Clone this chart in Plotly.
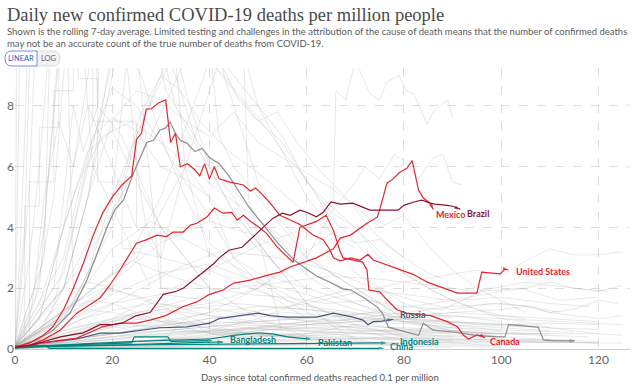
import plotly.graph_objects as go

# ---------------- highlighted countries (days since 0.1 deaths/million, daily deaths per million) ----------------
us_days = [0, 3, 5.8, 7.8, 10, 12, 14, 16, 18, 20, 22, 24, 25, 26, 27, 28, 29.5, 31, 32, 33, 34, 35.5, 37, 38, 39, 40, 41, 42, 44, 47, 48.4, 49.5, 50.8, 52.5, 54.5, 56.6, 58.6, 61.3, 63.4, 64.8, 65.5, 66.9, 69, 71, 72.6, 73.7, 76.5, 79, 82, 84.8, 87.4, 91, 95, 96, 99.8, 100.8, 101.5]
us_vals = [0.05, 0.2, 0.45, 0.73, 1.3, 2.0, 2.8, 3.7, 4.47, 5.0, 5.4, 5.7, 6.9, 7.1, 7.9, 7.9, 8.1, 8.2, 6.8, 7.1, 6.0, 6.1, 5.9, 5.7, 6.1, 5.6, 6.0, 5.6, 5.5, 5.4, 5.2, 5.3, 5.1, 4.8, 4.4, 4.24, 4.1, 3.75, 3.6, 3.26, 3.0, 2.9, 3.0, 2.93, 3.12, 2.93, 2.76, 2.62, 2.45, 2.2, 2.04, 1.84, 1.84, 2.53, 2.47, 2.63, 2.6]

canada_days = [0, 3, 5.8, 9.3, 12.7, 15.4, 17.5, 19.5, 21.6, 23.7, 25, 27.1, 29.2, 31.2, 32.5, 34.6, 36, 37.4, 39.5, 41, 42.8, 44.6, 45.7, 47, 48.5, 50.4, 51.8, 53.9, 56, 57.2, 58.6, 59.7, 62, 64, 65.5, 66.9, 67.5, 71.5, 72.4, 72.8, 75, 76.5, 78.5, 80.5, 85.5, 88.9, 91, 92.2, 93.3, 95, 96, 96.7]
canada_vals = [0.05, 0.12, 0.3, 0.62, 1.18, 1.45, 1.68, 2.1, 2.6, 3.15, 3.48, 3.6, 3.75, 3.7, 3.85, 3.85, 4.07, 4.14, 4.35, 4.64, 4.47, 4.5, 4.24, 4.4, 4.2, 3.98, 3.8, 3.36, 3.03, 2.85, 4.0, 4.07, 4.2, 4.4, 3.9, 3.2, 3.0, 2.86, 2.6, 1.94, 1.88, 1.62, 1.3, 1.18, 1.1, 0.9, 0.73, 0.46, 0.33, 0.46, 0.43, 0.36]

mexico_days = [0, 5.6, 12.7, 18, 21.6, 25, 27.8, 31, 34.6, 37.4, 40, 42.8, 45, 48.4, 52, 54.5, 56.6, 59.3, 62, 65.5, 66.9, 69, 72.4, 74.5, 75, 76.5, 77.8, 79, 80.6, 81.7, 83, 84, 85.4, 86]
mexico_vals = [0.05, 0.2, 0.36, 0.73, 0.85, 0.85, 0.95, 1.1, 1.4, 1.55, 1.8, 1.94, 2.17, 2.27, 2.43, 2.53, 2.7, 2.86, 3.0, 3.3, 3.65, 3.75, 4.14, 4.34, 4.57, 5.46, 5.6, 5.8, 5.95, 6.2, 5.23, 4.97, 4.8, 4.6]

brazil_days = [0, 3, 5.6, 9.3, 14, 17.5, 20, 22, 25, 27.8, 30.5, 33.2, 34.6, 37.4, 38.5, 40.8, 42, 44, 46.7, 48.4, 50.4, 53, 55, 56.6, 58.6, 60, 62, 63.4, 65, 66.9, 69.5, 71.7, 73, 78.8, 80, 82, 83.7, 85.4, 86.4, 88.9, 90, 91.6]
brazil_vals = [0.05, 0.12, 0.23, 0.4, 0.53, 0.8, 0.8, 0.85, 1.1, 1.2, 1.8, 1.9, 2.0, 2.35, 2.5, 2.8, 3.0, 3.25, 3.35, 3.6, 3.9, 4.3, 4.47, 4.4, 4.57, 4.5, 4.35, 4.5, 4.84, 4.77, 4.8, 4.67, 4.57, 4.57, 4.73, 4.84, 4.9, 4.8, 4.77, 4.73, 4.7, 4.6]

russia_days = [0, 5.6, 12.7, 17.5, 21.6, 25.7, 29.8, 35.4, 40, 42, 46, 50, 52.5, 56, 59, 62, 65.5, 69.5, 71.6, 72.6, 73.7, 75.5, 77.8]
russia_vals = [0.03, 0.2, 0.33, 0.52, 0.52, 0.6, 0.7, 0.73, 0.85, 1.0, 1.1, 1.18, 1.1, 1.05, 1.05, 1.05, 1.18, 1.05, 0.95, 0.8, 0.9, 0.92, 0.98]

grey_days = [0, 4.5, 7.8, 11.3, 12.7, 14.8, 16.9, 18.9, 20.6, 22.3, 24.4, 25.7, 27.1, 28.5, 29.8, 30.9, 31.9, 33, 34, 35.4, 37, 38.5, 40, 42, 44, 46, 48, 50, 52, 54, 57.2, 59.3, 62, 64.8, 67.5, 69, 71.6, 74.5, 75.5, 76.8, 80.6, 83, 84, 86, 90, 92, 94.3, 99, 100.8, 101.5, 106, 107.6, 108.7, 110.7, 115.2]
grey_vals = [0.05, 0.3, 0.62, 1.18, 1.6, 2.27, 3.15, 4.0, 4.6, 4.9, 5.8, 6.3, 6.8, 6.87, 7.2, 7.27, 7.47, 7.1, 6.87, 6.77, 6.5, 6.6, 6.3, 6.1, 5.7, 5.2, 4.7, 4.3, 3.9, 3.5, 2.95, 2.7, 2.4, 2.2, 1.97, 1.95, 1.7, 1.38, 1.2, 0.72, 0.55, 0.45, 0.85, 0.62, 0.56, 0.52, 0.46, 0.4, 0.4, 0.8, 0.75, 0.72, 0.3, 0.27, 0.27]

china_days = [0, 6.5, 7, 76]
china_vals = [0.1, 0.1, 0.02, 0.02]
asia_other_days = [0, 5, 15, 24, 24.5, 31.5, 32, 38, 40.7]
asia_other_vals = [0.05, 0.1, 0.15, 0.2, 0.4, 0.4, 0.25, 0.28, 0.28]
bangladesh_days = [0, 6, 20, 30, 38, 42.8]
bangladesh_vals = [0.03, 0.08, 0.12, 0.18, 0.22, 0.23]
pakistan_days = [0, 5, 15, 25, 35, 40, 45, 48, 50, 53, 56, 59, 61]
pakistan_vals = [0.05, 0.1, 0.18, 0.25, 0.3, 0.33, 0.45, 0.5, 0.53, 0.5, 0.4, 0.35, 0.33]
indonesia_days = [0, 5, 20, 40, 55, 65, 72, 76.5]
indonesia_vals = [0.05, 0.1, 0.13, 0.16, 0.18, 0.2, 0.2, 0.2]

# ---------------- background countries (grey) ----------------
bg_high = [
    ([0, 1, 2, 3], [0.1, 3, 7, 12]),
    ([0, 1.5, 3, 4, 6, 8], [0.1, 2.5, 5.5, 9.5, 12, 12]),
    ([0, 2, 2, 5, 5, 9, 9, 13, 13, 17, 17, 22, 22, 26], [0.1, 0.1, 4.7, 4.7, 7.3, 7.3, 9.5, 9.5, 8.9, 8.9, 5.5, 5.5, 3.3, 3.3]),
    ([0, 3, 6, 8, 10, 14, 18, 22, 26, 30, 35, 40, 50, 60], [0.1, 1, 4, 8, 12, 14, 12, 10, 9, 7, 5, 3.5, 2, 1]),
    ([0, 5, 10, 15, 20, 25, 30, 35, 40, 45, 50, 55, 60, 65, 70, 75, 80, 85, 90, 95, 100, 105, 110, 115, 120], [0.1, 0.5, 2, 5, 10, 13, 12, 11, 9.5, 8.5, 7.5, 6.8, 5.5, 4.5, 4, 3, 2.5, 2, 1.6, 1.3, 1, 0.9, 0.7, 0.6, 0.5]),
    ([0, 4, 8, 10, 12, 26, 30, 33, 36, 40, 45, 50, 55, 60, 65, 70, 80, 90], [0.1, 1.5, 5, 9, 13, 13, 10, 8, 7, 6, 4.5, 3.5, 2.5, 1.5, 0.8, 0.3, 0.1, 0.05]),
    ([0, 5, 10, 15, 20, 25, 35, 40, 45, 50, 55, 60, 65, 70, 75, 80, 85, 90, 95, 100, 105], [0.1, 0.6, 2, 5, 9, 12, 12, 10, 9, 8, 7, 5.5, 4.7, 4, 3.2, 2.5, 2, 1.6, 1.3, 1.1, 1.0]),
    ([0, 10, 15, 20, 24, 28, 31, 35, 40, 45, 50, 55, 60, 70, 80, 90, 100, 110, 115], [0.1, 2.5, 6, 9.5, 13, 11, 8.5, 7.5, 6.2, 5.2, 4.3, 3.5, 2.4, 1.5, 0.9, 0.6, 0.4, 0.3, 0.25]),
    ([0, 10, 15, 20, 25, 30, 35, 40, 45, 50, 55, 60, 65, 70, 75, 80, 85, 90, 95, 100, 105], [0.1, 2, 5, 7.5, 8.5, 8.2, 7.5, 7, 7.8, 6.8, 6.3, 5.8, 5.3, 4.7, 4.0, 4.4, 3.4, 2.6, 2.0, 1.6, 1.2]),
    ([0, 10, 15, 20, 25, 30, 35, 40, 45, 50, 60, 70, 80, 90, 100], [0.1, 3, 6.5, 8.6, 8.0, 6.8, 5.5, 4.4, 3.0, 2.2, 1.2, 0.6, 0.3, 0.2, 0.1]),
    ([0, 10, 20, 25, 30, 33, 36, 40, 45, 50, 55, 60, 70, 80, 90], [0.1, 1, 4, 7, 8.8, 9.8, 8, 6, 5, 3.5, 2.5, 1.5, 0.8, 0.4, 0.3]),
    ([0, 5, 10, 15, 20, 25, 30, 35, 40, 50, 60, 70, 80, 90, 100], [0.1, 1, 4, 6.5, 7.2, 5.5, 4, 3, 2, 1, 0.4, 0.15, 0.1, 0.1, 0.05]),
    ([0, 5, 10, 15, 18, 40, 43, 47, 50, 55, 60, 65, 70, 75, 80, 85, 90, 100], [0.1, 1, 4, 9, 12, 12, 9, 7, 5.5, 4.2, 3.2, 2.5, 2, 1.5, 1, 0.8, 0.6, 0.3]),
    ([0, 10, 20, 30, 40, 50, 60, 64, 65.5, 66, 68, 70, 73, 75, 76.5, 79, 80.5, 82, 84.8, 86, 89, 90], [0.1, 0.4, 1, 1.8, 2.6, 3.4, 4, 4.4, 5, 8.5, 8.2, 9.5, 8.4, 8.2, 8.8, 9, 8.5, 8.4, 7.4, 7.8, 8.2, 7.6]),
    ([0, 20, 30, 40, 50, 55, 60, 65, 70, 72, 75, 78, 80, 83, 86, 88, 90, 92], [0.1, 0.5, 0.8, 1.2, 2, 2.5, 3, 4.5, 5.5, 6, 5.6, 6.4, 6.2, 5.6, 6.3, 6.4, 5.5, 5.4]),
    ([0, 10, 15, 20, 23, 25, 27, 30, 35, 40, 45, 50, 60, 70, 80, 90, 100], [0.1, 1, 2.5, 5, 9.5, 6, 4, 3, 6, 5, 3, 2.5, 2, 1.5, 1, 1.1, 0.9]),
    ([0, 3, 3, 8, 8, 12, 12, 16, 16, 25, 25, 30, 30, 40, 40, 60], [0.1, 0.1, 5.5, 5.5, 8.5, 8.5, 11, 11, 7.5, 7.5, 4, 4, 2, 2, 0.5, 0.5]),
    ([0, 1, 20, 25, 30], [0.1, 30, 30, 10, 2]),
    ([0, 2, 15, 17, 19, 45, 48, 55], [0.1, 20, 20, 8, 20, 20, 5, 0.5]),
    ([0, 6, 8, 30, 35, 40], [0.1, 3, 15, 15, 6, 3]),
    ([0, 5, 7, 9, 11, 20, 28, 33, 38, 45, 55], [0.1, 2, 6, 9, 13, 13, 11, 9, 6.5, 4.5, 2.5]),
    ([0, 8, 12, 16, 20, 25, 30, 35, 40, 45, 50, 55, 60], [0.1, 1.5, 4, 7, 7.6, 7.2, 6, 5.6, 5, 4.2, 3.3, 2.6, 2]),
    ([0, 10, 20, 30, 38, 40, 42, 45, 50, 55, 60, 70, 80], [0.1, 2, 5, 9, 12, 10, 7, 6, 5, 4, 3, 2, 1]),
    ([0, 15, 25, 35, 45, 50, 55, 60, 63, 66, 70, 80, 90], [0.1, 3, 6, 9.5, 11, 8, 6.5, 5, 4.4, 3.5, 2.5, 1.5, 1]),
    ([0, 2, 4, 10, 12], [0.1, 4, 15, 15, 2]),
    ([0, 4, 6, 9, 12, 15, 20, 25, 30], [0.1, 2, 5, 7.5, 6, 8, 6, 4, 3]),
    ([0, 3, 5, 7, 14, 16, 22, 28], [0.1, 3, 6, 10, 10, 6, 4, 2]),
    ([0, 8, 10, 12, 14, 17, 22, 26, 30, 35, 40], [0.1, 2, 5, 8, 6.5, 8, 7, 5.5, 4, 3, 2]),
    ([0, 5, 9, 13, 18, 24, 30, 36, 42, 48, 54, 60, 66], [0.1, 1.5, 3.5, 5.5, 7, 7.5, 6.8, 6, 5.2, 4.5, 3.8, 3.0, 2.4]),
    ([0, 12, 18, 22, 26, 30, 34, 38, 44, 50, 56, 62, 70], [0.1, 1.5, 3.5, 5.5, 7.8, 9, 8.5, 7.5, 6.5, 5.8, 5, 4.2, 3.3]),
    ([0, 20, 30, 40, 44, 48, 52, 56, 60, 64, 70, 76], [0.1, 2, 5, 9.5, 8.8, 8, 7.2, 6.3, 5.6, 4.5, 3.5, 2.5]),
    ([0, 25, 35, 42, 46, 50, 54, 58, 62, 68, 74, 80], [0.1, 3, 6, 9.5, 8.2, 7.5, 7.8, 6.8, 6, 5, 3.8, 3]),
]

bg_mid = [
    ([0, 10, 20, 30, 40, 50, 60, 70, 80, 90, 100], [0.1, 0.8, 1.8, 2.5, 2.8, 2.2, 1.8, 1.3, 1.0, 0.8, 0.6]),
    ([0, 10, 20, 25, 30, 40, 50, 60, 70, 80, 90, 100, 110], [0.1, 1.2, 2.5, 3.2, 3.0, 2.6, 1.9, 1.4, 1.2, 0.9, 0.8, 0.7, 0.6]),
    ([0, 15, 25, 35, 45, 55, 65, 75, 85, 95, 105, 115, 122], [0.1, 0.6, 1.2, 1.6, 2.0, 2.2, 2.4, 2.3, 2.1, 1.9, 2.2, 2.0, 1.9]),
    ([0, 20, 40, 60, 80, 95, 100, 105, 110, 115, 120, 125], [0.1, 0.5, 1.0, 1.5, 2.2, 2.6, 2.4, 2.9, 3.3, 3.1, 3.1, 3.2]),
    ([0, 12, 20, 28, 35, 42, 50, 58, 66, 74, 82, 90], [0.1, 1.5, 3.3, 4.2, 3.6, 3.0, 2.3, 1.6, 1.1, 0.8, 0.5, 0.4]),
    ([0, 10, 18, 26, 34, 42, 50, 58, 66, 74, 82, 90, 98, 106, 112], [0.1, 0.7, 1.3, 2.0, 2.7, 3.2, 3.1, 2.9, 2.5, 2.0, 1.6, 1.3, 1.5, 1.4, 1.2]),
    ([0, 30, 40, 50, 60, 70, 80, 90, 100, 110, 118], [0.05, 0.3, 0.6, 1.0, 1.6, 2.0, 1.8, 1.6, 1.7, 1.5, 1.4]),
    ([0, 8, 16, 24, 32, 40, 48, 56, 64, 72, 80, 88, 96, 104, 112, 120], [0.1, 0.9, 2.0, 2.9, 2.4, 2.0, 1.8, 1.7, 1.5, 1.6, 1.4, 1.3, 1.9, 2.0, 1.6, 1.7]),
    ([0, 10, 20, 30, 40, 50, 60, 65, 70, 75, 80, 85, 88], [0.1, 0.5, 0.9, 1.3, 1.5, 2.0, 3.2, 3.8, 3.5, 3.6, 3.0, 2.5, 2.3]),
    ([0, 10, 20, 30, 40, 50, 60, 70, 80], [0.1, 1.0, 2.2, 3.5, 4.2, 3.7, 2.6, 1.8, 1.2]),
    ([0, 20, 40, 60, 80, 90, 100, 106, 110, 115, 120, 124], [0.05, 0.2, 0.4, 0.8, 1.2, 1.4, 1.5, 1.4, 1.2, 1.3, 1.6, 1.5]),
    ([0, 30, 60, 90, 100, 105, 110, 115, 120, 125], [0.05, 0.3, 0.9, 1.6, 1.9, 2.0, 2.2, 2.0, 1.9, 2.1]),
]

bg_low = [
    ([0, 10, 20, 30, 40, 50, 60, 70, 80, 90, 100, 110], [0.05, 0.3, 0.5, 0.6, 0.55, 0.5, 0.45, 0.4, 0.35, 0.3, 0.3, 0.25]),
    ([0, 8, 16, 24, 32, 40, 48, 56, 64, 72, 80, 88, 96], [0.05, 0.4, 0.8, 1.0, 0.9, 0.8, 0.7, 0.6, 0.55, 0.5, 0.45, 0.4, 0.4]),
    ([0, 12, 24, 36, 48, 60, 72, 84, 96, 108, 120], [0.05, 0.2, 0.35, 0.5, 0.7, 0.9, 1.0, 0.95, 0.8, 0.7, 0.65]),
    ([0, 5, 10, 15, 20, 30, 40, 50, 60, 70, 80], [0.1, 0.6, 1.1, 1.3, 1.2, 0.9, 0.7, 0.5, 0.35, 0.25, 0.2]),
    ([0, 10, 20, 30, 40, 50, 60, 70, 80, 90, 100, 110, 118], [0.05, 0.15, 0.25, 0.3, 0.35, 0.4, 0.45, 0.5, 0.5, 0.55, 0.5, 0.45, 0.4]),
    ([0, 15, 30, 45, 60, 75, 90, 105], [0.05, 0.5, 1.2, 1.5, 1.3, 1.1, 0.9, 0.8]),
    ([0, 6, 12, 18, 24, 30, 36, 42, 48, 54, 60, 66, 72], [0.1, 0.4, 0.7, 0.9, 1.1, 1.0, 0.8, 0.6, 0.5, 0.4, 0.3, 0.25, 0.2]),
    ([0, 20, 40, 60, 80, 100, 115], [0.02, 0.1, 0.2, 0.3, 0.35, 0.3, 0.3]),
    ([0, 10, 20, 30, 40, 50, 60, 70, 80, 90], [0.05, 0.25, 0.6, 0.9, 1.2, 1.4, 1.3, 1.1, 0.9, 0.7]),
    ([0, 25, 50, 75, 100, 120], [0.02, 0.08, 0.15, 0.2, 0.25, 0.2]),
    ([0, 4, 8, 12, 16, 20, 25, 30, 35, 40, 50, 60], [0.1, 0.5, 0.9, 1.4, 1.6, 1.5, 1.2, 0.9, 0.7, 0.5, 0.3, 0.2]),
    ([0, 10, 20, 30, 40, 50, 60, 70, 80, 90, 100], [0.05, 0.1, 0.2, 0.3, 0.45, 0.6, 0.7, 0.75, 0.7, 0.6, 0.5]),
    ([0, 15, 30, 45, 60, 75, 90, 105, 120, 125], [0.05, 0.3, 0.6, 0.8, 0.7, 0.6, 0.55, 0.5, 0.5, 0.45]),
    ([0, 10, 20, 30, 40, 50, 60, 70, 80], [0.1, 0.9, 1.5, 1.8, 1.6, 1.2, 0.9, 0.7, 0.5]),
    ([0, 20, 40, 60, 80, 100], [0.03, 0.05, 0.1, 0.12, 0.15, 0.12]),
    ([0, 8, 16, 24, 32, 40, 48, 56, 64, 72, 80, 88, 96, 104, 110], [0.05, 0.2, 0.4, 0.6, 0.8, 1.0, 1.1, 1.2, 1.1, 1.0, 0.9, 0.9, 0.8, 0.8, 0.7]),
    ([0, 30, 35, 40, 60, 80, 100, 120], [0.05, 0.2, 1.0, 0.5, 0.4, 0.3, 0.25, 0.2]),
    ([0, 12, 25, 38, 50, 62, 75, 88, 100], [0.05, 0.2, 0.4, 0.55, 0.65, 0.6, 0.5, 0.45, 0.4]),
    ([0, 10, 20, 30, 40, 50, 60, 70, 80, 90, 100, 110, 120], [0.05, 0.1, 0.15, 0.2, 0.25, 0.3, 0.3, 0.35, 0.4, 0.35, 0.3, 0.3, 0.25]),
    ([0, 6, 12, 18, 24, 30, 40, 50, 60, 70], [0.1, 0.8, 1.5, 2.0, 1.8, 1.5, 1.1, 0.8, 0.6, 0.4]),
    ([0, 5, 10, 15, 20, 25, 30, 40, 50, 60, 70, 80, 90, 100, 110], [0.1, 0.3, 0.6, 0.8, 1.0, 1.2, 1.3, 1.1, 0.9, 0.8, 0.7, 0.6, 0.6, 0.5, 0.5]),
    ([0, 10, 20, 30, 40, 50, 60, 70, 80, 90, 100, 110, 120], [0.05, 0.4, 0.7, 0.8, 0.9, 0.85, 0.8, 0.9, 1.0, 0.9, 0.8, 0.85, 0.8]),
    ([0, 7, 14, 21, 28, 35, 42, 49, 56, 63, 70, 77, 84, 91, 98], [0.1, 0.5, 1.0, 1.3, 1.5, 1.4, 1.3, 1.1, 1.0, 0.9, 0.8, 0.7, 0.6, 0.6, 0.5]),
    ([0, 10, 20, 30, 40, 50, 60, 70, 80, 90, 100, 105, 110, 115, 120, 125], [0.05, 0.2, 0.4, 0.5, 0.6, 0.7, 0.8, 0.9, 1.1, 1.2, 1.3, 1.4, 1.2, 1.1, 1.0, 1.1]),
    ([0, 15, 30, 45, 60, 75, 90, 105, 115], [0.05, 0.1, 0.3, 0.4, 0.5, 0.6, 0.7, 0.6, 0.55]),
    ([0, 5, 10, 15, 20, 25, 30, 35, 40, 45, 50], [0.1, 0.8, 1.6, 2.2, 2.0, 1.7, 1.4, 1.1, 0.8, 0.6, 0.5]),
    ([0, 20, 40, 60, 70, 80, 90, 100, 110, 120], [0.05, 0.15, 0.3, 0.5, 0.8, 1.0, 1.2, 1.1, 1.0, 0.9]),
    ([0, 12, 24, 36, 48, 60, 72, 84, 96, 108], [0.05, 0.3, 0.6, 0.8, 0.9, 1.0, 0.9, 0.8, 0.6, 0.5]),
    ([0, 9, 18, 27, 36, 45, 54, 63, 72, 81, 90, 99], [0.05, 0.2, 0.3, 0.45, 0.6, 0.65, 0.7, 0.65, 0.6, 0.55, 0.5, 0.45]),
    ([0, 10, 20, 30, 40, 50, 60, 70, 80, 90, 100, 110, 120, 125], [0.03, 0.05, 0.08, 0.1, 0.1, 0.12, 0.15, 0.15, 0.18, 0.2, 0.2, 0.22, 0.2, 0.2]),
    ([0, 6, 12, 18, 24, 30, 36, 42, 48, 54, 60, 66, 72, 78, 84, 90], [0.1, 0.3, 0.5, 0.7, 0.8, 0.7, 0.6, 0.55, 0.5, 0.45, 0.4, 0.35, 0.35, 0.3, 0.3, 0.25]),
    ([0, 25, 50, 75, 100, 125], [0.05, 0.5, 0.9, 1.2, 1.0, 0.8]),
]

x_ticks = [0, 20, 40, 60, 80, 100, 120]
y_ticks = [0, 2, 4, 6, 8]

# ---------------- figure ----------------
W, H = 640, 384
L, R, T, B = 15, 630, 68, 349


def px(xp):
    return (xp - L) / (R - L)


def py(yp):
    return (B - yp) / (B - T)


RED = "#e3262f"
DARKRED = "#8c1330"
BLUE = "#46587f"
TEAL = "#00847e"
GREY = "#8f8f8f"

fig = go.Figure()

for group in (bg_low, bg_mid, bg_high):
    for d, v in group:
        fig.add_trace(go.Scatter(x=d, y=v, mode="lines", hoverinfo="skip",
                                 line=dict(color="rgba(175,175,175,0.36)", width=0.8)))


def add_country(d, v, color, width=1.2):
    n = len(d)
    fig.add_trace(go.Scatter(
        x=d, y=v, mode="lines+markers", hoverinfo="skip",
        line=dict(color=color, width=width),
        marker=dict(size=[0] * (n - 1) + [6], symbol="arrow", angleref="previous", color=color,
                    line=dict(width=0)),
    ))


add_country(china_days, china_vals, TEAL)
add_country(indonesia_days, indonesia_vals, TEAL)
add_country(bangladesh_days, bangladesh_vals, TEAL)
add_country(asia_other_days, asia_other_vals, TEAL)
add_country(pakistan_days, pakistan_vals, TEAL)
add_country(russia_days, russia_vals, BLUE)
add_country(grey_days, grey_vals, GREY)
add_country(canada_days, canada_vals, RED)
add_country(mexico_days, mexico_vals, RED)
add_country(us_days, us_vals, RED)
add_country(brazil_days, brazil_vals, DARKRED)

labels = [
    ("Bangladesh", 43.8, 0.3, TEAL),
    ("Pakistan", 62.0, 0.23, TEAL),
    ("Indonesia", 78.8, 0.26, TEAL),
    ("China", 76.7, 0.07, TEAL),
    ("Russia", 78.8, 1.12, BLUE),
    ("Canada", 97.3, 0.26, RED),
    ("United States", 102.7, 2.55, RED),
    ("Mexico", 86.2, 4.44, RED),
    ("Brazil", 92.6, 4.47, DARKRED),
]
annotations = []
for text, xd, yd, col in labels:
    annotations.append(dict(x=xd, y=yd, xref="x", yref="y", text="<b>" + text + "</b>", showarrow=False,
                             xanchor="left", yanchor="middle", font=dict(family="Lato", size=9, color=col)))

annotations += [
    dict(x=px(5), y=py(15), xref="paper", yref="paper", xanchor="left", yanchor="middle", showarrow=False,
         text="Daily new confirmed COVID-19 deaths per million people",
         font=dict(family="Liberation Serif", size=18.5, color="#4a4a4a")),
    dict(x=px(5), y=py(37), xref="paper", yref="paper", xanchor="left", yanchor="middle", showarrow=False,
         align="left",
         text="Shown is the rolling 7-day average. Limited testing and challenges in the attribution of the cause of death means that the number of confirmed deaths<br>may not be an accurate count of the true number of deaths from COVID-19.",
         font=dict(family="Lato", size=9.5, color="#5b5b5b")),
    dict(x=px(21), y=py(58.5), xref="paper", yref="paper", xanchor="center", yanchor="middle", showarrow=False,
         text="LINEAR", font=dict(family="Lato", size=7.5, color="#2f5bbf")),
    dict(x=px(48.5), y=py(58.5), xref="paper", yref="paper", xanchor="center", yanchor="middle", showarrow=False,
         text="LOG", font=dict(family="Lato", size=7.5, color="#666666")),
    dict(x=px(320), y=py(377), xref="paper", yref="paper", xanchor="center", yanchor="middle", showarrow=False,
         text="Days since total confirmed deaths reached 0.1 per million",
         font=dict(family="Lato", size=9.5, color="#555555")),
]


def pill(x0, x1, y0, y1, r, left=True, right=True):
    pts = []
    if left:
        pts.append(f"M{px(x0 + r)},{py(y0)}")
    else:
        pts.append(f"M{px(x0)},{py(y0)}")
    if right:
        pts.append(f"L{px(x1 - r)},{py(y0)} Q{px(x1)},{py(y0)} {px(x1)},{py(y0 + r)} L{px(x1)},{py(y1 - r)} Q{px(x1)},{py(y1)} {px(x1 - r)},{py(y1)}")
    else:
        pts.append(f"L{px(x1)},{py(y0)} L{px(x1)},{py(y1)}")
    if left:
        pts.append(f"L{px(x0 + r)},{py(y1)} Q{px(x0)},{py(y1)} {px(x0)},{py(y1 - r)} L{px(x0)},{py(y0 + r)} Q{px(x0)},{py(y0)} {px(x0 + r)},{py(y0)} Z")
    else:
        pts.append(f"L{px(x0)},{py(y1)} Z")
    return " ".join(pts)


shapes = [
    dict(type="path", xref="paper", yref="paper", path=pill(36, 60, 51, 66, 7, left=False),
         fillcolor="#f2f2f2", line=dict(color="#dddddd", width=1), layer="above"),
    dict(type="path", xref="paper", yref="paper", path=pill(5, 37, 51, 66, 7, right=False),
         fillcolor="#ffffff", line=dict(color="#6f8fdc", width=1), layer="above"),
]

fig.update_layout(
    width=W, height=H,
    margin=dict(l=L, r=W - R, t=T, b=H - B, autoexpand=False),
    paper_bgcolor="white", plot_bgcolor="white",
    showlegend=False,
    annotations=annotations,
    shapes=shapes,
    xaxis=dict(range=[0, 126.5], tickvals=x_ticks, showgrid=True, gridcolor="#dddddd", griddash="dash",
               gridwidth=1, zeroline=False, showline=True, linecolor="#cccccc", linewidth=1,
               ticks="", tickfont=dict(family="Lato", size=12, color="#666666"), fixedrange=True),
    yaxis=dict(range=[0, 9.25], tickvals=y_ticks, showgrid=True, gridcolor="#dddddd", griddash="dash",
               gridwidth=1, zeroline=False, showline=False, ticks="",
               tickfont=dict(family="Lato", size=12, color="#666666"), fixedrange=True),
)

fig.write_html("out.html", config={"displayModeBar": False},
               post_script="document.body.style.margin='0';document.body.style.overflow='hidden';")
